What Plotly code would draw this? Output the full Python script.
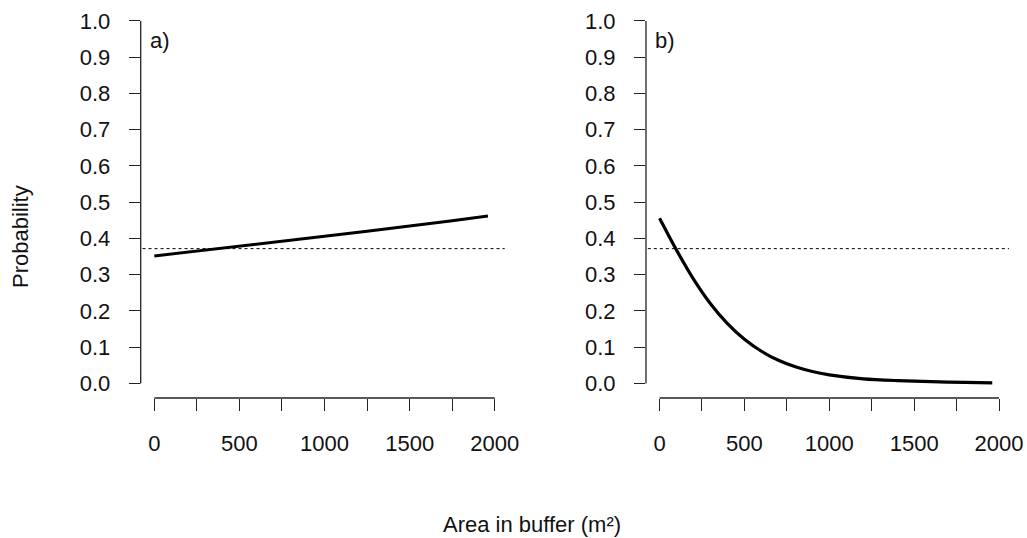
import plotly.graph_objects as go

# Data
area_a = [0, 250, 500, 750, 1000, 1250, 1500, 1750, 1960]
prob_a = [0.352, 0.365, 0.378, 0.392, 0.406, 0.420, 0.434, 0.449, 0.462]

area_b = [0, 100, 200, 300, 400, 500, 600, 700, 800, 900, 1000, 1200, 1400, 1600, 1800, 1960]
prob_b = [0.456, 0.368, 0.288, 0.220, 0.165, 0.122, 0.089, 0.064, 0.046, 0.033, 0.024, 0.013, 0.008, 0.005, 0.003, 0.002]

baseline = 0.372

y_ticks = [i / 10 for i in range(11)]
y_ticktext = [f"{v:.1f}" for v in y_ticks]
x_ticks = [0, 250, 500, 750, 1000, 1250, 1500, 1750, 2000]
x_ticktext = ["0", "", "500", "", "1000", "", "1500", "", "2000"]
panel_labels = ["a)", "b)"]

FONT = "Liberation Sans, Arial, sans-serif"
FS = 22

fig = go.Figure()
fig.add_trace(go.Scatter(x=area_a, y=prob_a, mode="lines", line=dict(color="black", width=3),
                         xaxis="x", yaxis="y", showlegend=False))
fig.add_trace(go.Scatter(x=area_b, y=prob_b, mode="lines",
                         line=dict(color="black", width=3.2, shape="spline", smoothing=0.8),
                         xaxis="x2", yaxis="y2", showlegend=False))

ydom = [0.2602, 0.988]
common_x = dict(range=[-80, 2080], tickmode="array", tickvals=x_ticks, ticktext=x_ticktext,
                ticks="outside", ticklen=12, tickwidth=1.3, tickcolor="#222",
                showline=False, showgrid=False, zeroline=False, automargin=False,
                tickfont=dict(family=FONT, size=FS, color="#111"), ticklabelstandoff=14)
common_y = dict(range=[-0.04, 1.04], tickmode="array", tickvals=y_ticks, ticktext=y_ticktext,
                ticks="outside", ticklen=11, tickwidth=1.3, tickcolor="#222",
                showline=False, showgrid=False, zeroline=False, domain=ydom, automargin=False,
                tickfont=dict(family=FONT, size=FS, color="#111"), ticklabelstandoff=14)

fig.update_layout(
    width=1027, height=538,
    margin=dict(l=0, r=0, t=0, b=0, autoexpand=False),
    plot_bgcolor="white", paper_bgcolor="white",
    xaxis=dict(domain=[0.137, 0.495], anchor="y", **common_x),
    yaxis=dict(anchor="x", **common_y),
    xaxis2=dict(domain=[0.629, 0.986], anchor="y2", **common_x),
    yaxis2=dict(anchor="x2", **common_y),
)

shapes = []
for xr, yr in [("x", "y"), ("x2", "y2")]:
    # detached axis lines (R style)
    shapes.append(dict(type="line", xref=xr, yref=f"{yr} domain", x0=0, x1=2000, y0=0, y1=0,
                       line=dict(color="#222", width=1.3)))
    shapes.append(dict(type="line", xref=f"{xr} domain", yref=yr, x0=0, x1=0, y0=0, y1=1,
                       line=dict(color="#222", width=1.3)))
    # dotted reference line
    shapes.append(dict(type="line", xref=f"{xr} domain", yref=yr, x0=0.005, x1=0.99,
                       y0=baseline, y1=baseline, line=dict(color="black", width=1, dash="dot")))
fig.update_layout(shapes=shapes)

annotations = [
    dict(text=panel_labels[0], x=148 / 1027, y=1 - 40 / 538, xref="paper", yref="paper",
         xanchor="left", yanchor="middle", showarrow=False, font=dict(family=FONT, size=FS, color="#111")),
    dict(text=panel_labels[1], x=653 / 1027, y=1 - 40 / 538, xref="paper", yref="paper",
         xanchor="left", yanchor="middle", showarrow=False, font=dict(family=FONT, size=FS, color="#111")),
    dict(text="Probability", x=20 / 1027, y=1 - 237 / 538, xref="paper", yref="paper",
         xanchor="center", yanchor="middle", textangle=-90, showarrow=False,
         font=dict(family=FONT, size=FS, color="#111")),
    dict(text="Area in buffer (m²)", x=532 / 1027, y=1 - 524 / 538, xref="paper", yref="paper",
         xanchor="center", yanchor="middle", showarrow=False,
         font=dict(family=FONT, size=FS, color="#111")),
]
fig.update_layout(annotations=annotations)

fig.write_html("out.html")
